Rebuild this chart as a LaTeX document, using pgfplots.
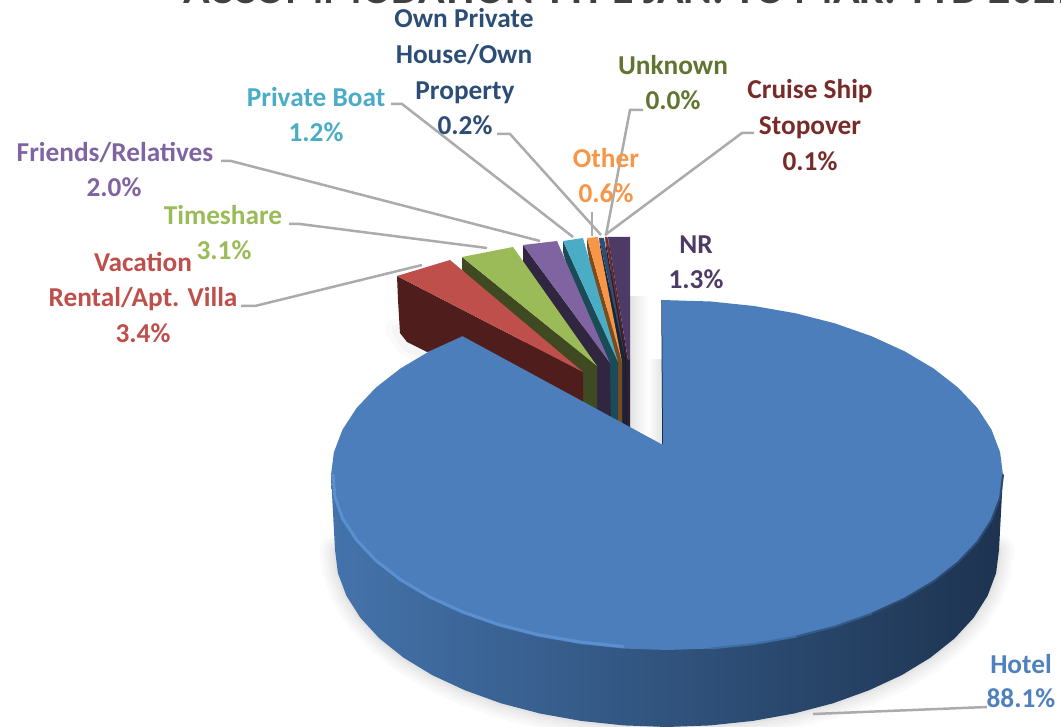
\documentclass[border=0pt]{standalone}
\usepackage{pgfplots}
\pgfplotsset{compat=1.18}
\usepackage{pgfplotstable}
\usepackage{fontspec}
\setmainfont{Carlito}
\definecolor{cHotel}{HTML}{4C7EBB}
\definecolor{tHotel}{HTML}{4F81BD}
\definecolor{HotelL}{HTML}{4473AB}
\definecolor{HotelM}{HTML}{2C4A72}
\definecolor{HotelR}{HTML}{1D3350}
\definecolor{cRed}{HTML}{BE4F4B}
\definecolor{wRed}{HTML}{4F1E1C}
\definecolor{cGreen}{HTML}{9BBB59}
\definecolor{wGreen}{HTML}{3F4A22}
\definecolor{cPurple}{HTML}{8064A2}
\definecolor{wPurple}{HTML}{30263F}
\definecolor{cTeal}{HTML}{4BACC6}
\definecolor{wTeal}{HTML}{1B4B57}
\definecolor{cOrange}{HTML}{F79646}
\definecolor{wOrange}{HTML}{7B4A1E}
\definecolor{cOwn}{HTML}{2C4D75}
\definecolor{wOwn}{HTML}{15263A}
\definecolor{cCruise}{HTML}{772C2A}
\definecolor{wCruise}{HTML}{3A1414}
\definecolor{cNR}{HTML}{4D3B66}
\definecolor{wNR}{HTML}{2A2138}
\definecolor{cUnk}{HTML}{5F7530}
\definecolor{leader}{HTML}{ABABAB}
\definecolor{rimA}{HTML}{5A8FD0}
\definecolor{rimB}{HTML}{3F6CA2}
\definecolor{rimC}{HTML}{335A8B}
\pgfplotstableread{
x y
999 550
996.1 573.1
987.6 595.8
973.7 617.7
954.5 638.5
930.4 657.7
901.8 675.1
869 690.3
833 703.3
794.1 713.5
753 720.9
710.4 725.4
667 727
623.6 725.4
581 720.9
539.9 713.5
501 703.3
465 690.3
432.2 675.1
403.6 657.7
379.5 638.5
360.3 617.7
346.4 595.8
337.9 573.1
335 550
}\wallarc
\newcommand{\lab}[4]{\node[anchor=base,text=#1,inner sep=0pt,font=\fontsize{27.3}{30}\selectfont\bfseries] at (axis cs:#2,#3) {#4};}
\begin{document}
\begin{tikzpicture}
\path[use as bounding box] (0,0) rectangle (1061pt,727pt);
\begin{axis}[at={(0pt,0pt)},anchor=south west,scale only axis,width=1061pt,height=727pt,
  xmin=0,xmax=1061,ymin=0,ymax=727,y dir=reverse,hide axis,clip=true]
% soft shadows
\addplot[draw=black!2,line width=30pt,line join=round,line cap=round] table[x=x,y=y] {\wallarc};
\addplot[draw=black!4,line width=23pt,line join=round,line cap=round] table[x=x,y=y] {\wallarc};
\addplot[draw=black!6,line width=17pt,line join=round,line cap=round] table[x=x,y=y] {\wallarc};
\addplot[draw=black!8,line width=11pt,line join=round,line cap=round] table[x=x,y=y] {\wallarc};
\addplot[draw=black!11,line width=5pt,line join=round,line cap=round] table[x=x,y=y] {\wallarc};
\addplot[draw=black!2,line width=22pt,line join=round,line cap=round] coordinates {(396,330) (407,345) (427,356)};
\addplot[draw=black!4,line width=12pt,line join=round,line cap=round] coordinates {(398,330) (407,345) (427,356)};
\addplot[draw=none,left color=black!11,right color=white] coordinates {(630,297) (648,297) (648,432) (630,432) (630,297)};
\addplot[draw=none,left color=white,right color=black!11] coordinates {(648,360) (662,360) (662,445) (648,445) (648,360)};
% NR
\addplot[draw=none,fill=wNR] coordinates {(608,237) (628,360) (630,358) (630,432) (625,432) (608,237)};
\addplot[draw=none,fill=cNR] coordinates {(608,237) (630,237) (630,358) (628,360) (608,237)};
% Cruise
\addplot[draw=none,fill=wCruise] coordinates {(605,237) (626,357) (627,432) (623,432) (605,237)};
\addplot[draw=none,fill=cCruise] coordinates {(605,237) (607.5,237) (626.5,357) (605,237)};
% Own
\addplot[draw=none,fill=wOwn] coordinates {(599,238) (625,357) (626,432) (622,432) (599,238)};
\addplot[draw=none,fill=cOwn] coordinates {(599,238) (604,238) (625,357) (599,238)};
% Orange
\addplot[draw=none,fill=wOrange] coordinates {(587,238) (622,362) (622,432) (618,432) (587,247) (587,238)};
\addplot[draw=none,fill=cOrange] coordinates {(587,238) (598,237) (622,362) (587,238)};
% Teal
\addplot[draw=none,fill=wTeal] coordinates {(563,241) (618,362) (618,432) (611,428) (563,252) (563,241)};
\addplot[draw=none,fill=cTeal] coordinates {(563,241) (583,238) (618,362) (563,241)};
% Purple
\addplot[draw=none,fill=wPurple] coordinates {(523,245) (610,363) (611,428) (597,418) (523,262) (523,245)};
\addplot[draw=none,fill=cPurple] coordinates {(523,245) (557,241) (610,363) (523,245)};
% Green
\addplot[draw=none,fill=wGreen] coordinates {(462,257) (597,366) (597,418) (583,408) (462,270) (462,257)};
\addplot[draw=none,fill=cGreen] coordinates {(462,257) (513,247) (597,366) (462,257)};
% Vacation
\addplot[draw=none,fill=wRed] coordinates {(397,276) (583,372) (583,410) (463,345) (427,352) (407,342) (400,333) (398,300) (397,276)};
\addplot[draw=none,fill=cRed] coordinates {(397,276) (450,260) (583,372) (397,276)};
% Hotel wall
\addplot[draw=none,left color=HotelL,middle color=HotelM,right color=HotelR] coordinates {
(1003,475) (999,550) (996.1,573.1) (987.6,595.8) (973.7,617.7) (954.5,638.5) (930.4,657.7) (901.8,675.1) (869,690.3) (833,703.3) (794.1,713.5) (753,720.9) (710.4,725.4) (667,727) (623.6,725.4) (581,720.9) (539.9,713.5) (501,703.3) (465,690.3) (432.2,675.1) (403.6,657.7) (379.5,638.5) (360.3,617.7) (346.4,595.8) (337.9,573.1) (335,550) (331,475)};
% Hotel top with wedge
\addplot[draw=wOwn,line width=1.5pt] coordinates {(662,300) (663,445)};
\addplot[draw=none,fill=cHotel] coordinates {
(662,300) (710.9,301.5) (754,306) (795.6,313.3) (835,323.4) (871.5,336.2) (904.6,351.3) (933.6,368.5) (958,387.5) (977.4,408) (991.5,429.7) (1000.1,452.2)
(1003,475) (1000.1,497.8) (991.5,520.3) (977.4,542) (958,562.5) (933.6,581.5) (904.6,598.7) (871.5,613.8) (835,626.6) (795.6,636.7) (754,644) (710.9,648.5)
(667,650) (623.1,648.5) (580,644) (538.4,636.7) (499,626.6) (462.5,613.8) (429.4,598.7) (400.4,581.5) (376,562.5) (356.6,542) (342.5,520.3) (333.9,497.8)
(331,475) (333.9,452.2) (342.5,429.7) (356.6,408) (376,387.5) (400.4,368.5) (429.4,351.3) (462.5,336.2) (663,445) (662,300)};
% rim
\addplot[draw=HotelM,line width=2pt,line join=round,line cap=round] coordinates {(1003,475) (1000.1,497.8) (991.5,520.3) (977.4,542) (958,562.5) (933.6,581.5) (904.6,598.7) (871.5,613.8)};
\addplot[draw=rimC,line width=2pt,line join=round,line cap=round] coordinates {(871.5,613.8) (835,626.6) (795.6,636.7)};
\addplot[draw=rimB,line width=2pt,line join=round,line cap=round] coordinates {(795.6,636.7) (754,644) (710.9,648.5)};
\addplot[draw=rimA,line width=3pt,line join=round,line cap=round] coordinates {(623.1,646.5) (580,642) (538.4,634.7) (499,624.6) (462.5,611.8) (429.4,596.7) (400.4,579.5) (376,560.5) (356.6,540) (342.5,518.3) (334.9,496.8) (333,475)};
% leaders
\addplot[draw=leader,line width=2.5pt] coordinates {(241,306) (255,306) (422,265)};
\addplot[draw=leader,line width=2.5pt] coordinates {(289,224) (300,224) (487,248)};
\addplot[draw=leader,line width=2.5pt] coordinates {(221,161) (231,161) (540,241)};
\addplot[draw=leader,line width=2.5pt] coordinates {(391,104) (402,104) (573,237)};
\addplot[draw=leader,line width=2.5pt] coordinates {(497,134) (510,134) (601,235)};
\addplot[draw=leader,line width=2.5pt] coordinates {(592,212) (592,236)};
\addplot[draw=leader,line width=2.5pt] coordinates {(643,110) (630,110) (606,235)};
\addplot[draw=leader,line width=2.5pt] coordinates {(754,133) (742,133) (605,235)};
\addplot[draw=leader,line width=2.5pt] coordinates {(987,707) (813,714)};
% title
\node[anchor=base west,text=black!75,inner sep=0pt,font=\fontsize{44}{48}\selectfont\bfseries] at (axis cs:183,4) {ACCOMMODATION TYPE JAN. TO MAR. YTD 2021};
% labels
\lab{cOwn}{464}{28}{Own Private}
\lab{cOwn}{464}{64}{House/Own}
\lab{cOwn}{465}{100}{Property}
\lab{cOwn}{465}{135}{0.2\%}
\lab{cTeal}{316}{107}{Private Boat}
\lab{cTeal}{316}{142}{1.2\%}
\lab{cPurple}{115}{162}{Friends/Relatives}
\lab{cPurple}{114}{197}{2.0\%}
\lab{cGreen}{223}{225}{Timeshare}
\lab{cGreen}{224}{260}{3.1\%}
\lab{cRed}{143}{272}{Vacation}
\lab{cRed}{143}{307}{Rental/Apt. Villa}
\lab{cRed}{143}{343}{3.4\%}
\lab{cUnk}{673}{75}{Unknown}
\lab{cUnk}{673}{110}{0.0\%}
\lab{cCruise}{810}{99}{Cruise Ship}
\lab{cCruise}{810}{135}{Stopover}
\lab{cCruise}{810}{171}{0.1\%}
\lab{cOrange}{606}{168}{Other}
\lab{cOrange}{606}{203}{0.6\%}
\lab{cNR}{696}{254}{NR}
\lab{cNR}{696}{289}{1.3\%}
\lab{tHotel}{1021}{673}{Hotel}
\lab{tHotel}{1021}{707}{88.1\%}
\end{axis}
\end{tikzpicture}
\end{document}
